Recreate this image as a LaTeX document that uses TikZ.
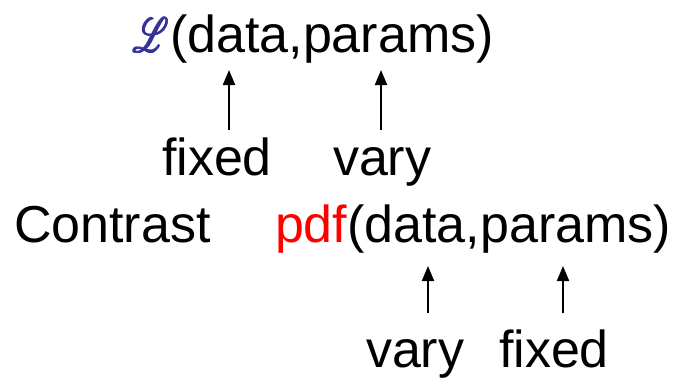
\documentclass[tikz,border=0pt]{standalone}
\usepackage{fontspec}
\usepackage{amsmath}
\usepackage{mathrsfs}
\usepackage{graphicx}
\setmainfont{Liberation Sans}
\usetikzlibrary{arrows.meta}
\definecolor{lblue}{HTML}{333399}
\definecolor{pdfred}{HTML}{FF0000}
\newcommand{\bigL}{\resizebox{36bp}{34bp}{$\mathscr{L}$}}
\newcommand{\boldL}{\rlap{\bigL}\rlap{\hspace{0.8bp}\bigL}\rlap{\hspace{1.6bp}\bigL}\rlap{\hspace{0.8bp}\raisebox{0.7bp}{\bigL}}\hspace{1.6bp}\bigL}
\tikzset{
  txt/.style={anchor=base west, inner sep=0pt, outer sep=0pt, font=\fontsize{52bp}{60bp}\selectfont},
  uparrow/.style={line width=2bp, -{Triangle[length=15bp,width=12bp]}}
}
\begin{document}
\begin{tikzpicture}[x=1bp,y=-1bp]
\useasboundingbox (0,0) rectangle (684,383);
\node[txt] (lik) at (132,52) {\textcolor{lblue}{\boldL}\hspace{0.5bp}(data,params)};
\node[txt] (fix1) at (162,175) {fixed};
\node[txt] (var1) at (333,175) {vary};
\node[txt] (con) at (14,242) {Contrast};
\node[txt] (pdf) at (275,242) {\textcolor{pdfred}{pdf}(data,params)};
\node[txt] (var2) at (366,367) {vary};
\node[txt] (fix2) at (499,367) {fixed};
\coordinate (a1s) at (229,130); \coordinate (a1e) at (229,70);
\coordinate (a2s) at (381,130); \coordinate (a2e) at (381,70);
\coordinate (a3s) at (428,313); \coordinate (a3e) at (428,266);
\coordinate (a4s) at (563,313); \coordinate (a4e) at (563,266);
\draw[uparrow] (a1s) -- (a1e);
\draw[uparrow] (a2s) -- (a2e);
\draw[uparrow] (a3s) -- (a3e);
\draw[uparrow] (a4s) -- (a4e);
\end{tikzpicture}
\end{document}
